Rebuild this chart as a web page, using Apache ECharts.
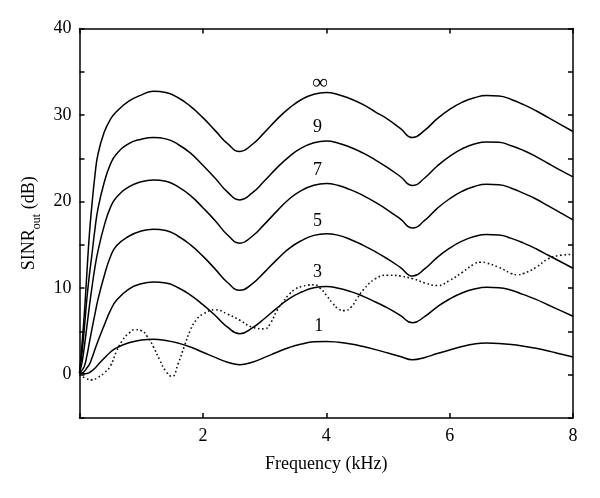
<!DOCTYPE html>
<html>
<head>
<meta charset="utf-8">
<script src="https://cdn.jsdelivr.net/npm/echarts@6/dist/echarts.min.js"></script>
<style>html,body{margin:0;padding:0;background:#fff;}#chart{width:600px;height:498px;}</style>
</head>
<body>
<div id="chart"></div>
<script>
// Frequency samples (kHz) shared by the solid curves
const freq = [0,0.04,0.08,0.12,0.16,0.2,0.25,0.3,0.4,0.5,0.6,0.8,1.0,1.2,
  1.4,1.6,1.8,2.0,2.2,2.4,2.6,2.8,3.0,3.2,3.4,3.6,3.8,4.0,4.2,4.4,4.6,4.8,5.0,5.2,5.4,
  5.6,5.8,6.0,6.2,6.4,6.6,6.8,7.0,7.2,7.4,7.6,7.8,8.0];
// SINR_out (dB) curves
const sinrInf = [0.2,3.5,7.2,11.8,16.2,19.5,23,25.5,28.0,29.5,30.4,31.6,32.3,32.75,
  32.6,32.0,31.0,29.7,28.2,26.7,25.8, 26.6,28.0,29.5,30.8,31.8,32.4,32.6,
  32.35,31.85,31.2,30.35,29.5,28.45,27.4, 28.27,29.58,30.65,31.47,32.0,32.25,
  32.2,31.8,31.2,30.5,29.7,28.9,28.1];
const sinr9 = [0.2,2.5,5.5,8.8,11.5,13.8,16.8,19.2,22.2,24.3,25.5,26.7,27.2,27.4,
  27.25,26.6,25.6,24.2,22.7,21.1,20.2, 21.0,22.4,23.9,25.2,26.2,26.8,27.0,
  26.75,26.25,25.6,24.8,23.9,22.9,21.85, 22.76,24.12,25.23,26.09,26.65,26.9,
  26.85,26.45,25.9,25.2,24.4,23.6,22.85];
const sinr7 = [0.2,1.4,3.3,5.6,7.9,10.0,12.4,14.3,17.2,19.3,20.5,21.7,22.3,22.5,
  22.35,21.7,20.7,19.3,17.8,16.15,15.2, 16.0,17.4,18.9,20.3,21.3,21.9,22.1,
  21.85,21.35,20.7,19.9,19.0,18.0,16.95, 17.86,19.22,20.33,21.19,21.75,22.0,
  21.95,21.55,20.95,20.3,19.5,18.7,17.9];
const sinr5 = [0.2,0.5,1.0,2.2,3.7,5.2,7.0,8.7,11.4,13.6,14.9,16.0,16.6,16.8,
  16.65,16.0,15.0,13.7,12.2,10.65,9.75, 10.5,11.85,13.3,14.6,15.5,16.1,16.3,
  16.1,15.6,14.95,14.2,13.35,12.4,11.4, 12.26,13.56,14.62,15.43,15.96,16.2,
  16.15,15.75,15.2,14.55,13.8,13.05,12.3];
const sinr3 = [0.2,0.2,0.4,0.8,1.2,1.9,2.9,3.9,5.7,7.4,8.6,9.9,10.5,10.7,
  10.6,10.05,9.2,8.1,6.85,5.5,4.74, 5.4,6.5,7.7,8.8,9.55,10.05,10.2,
  10.0,9.6,9.05,8.4,7.7,6.85,6.0, 6.74,7.85,8.75,9.44,9.9,10.1,
  10.05,9.75,9.25,8.7,8.05,7.4,6.75];
const sinr1 = [0.2,0.1,0.1,0.15,0.25,0.45,0.75,1.15,1.9,2.6,3.1,3.7,4.0,4.1,
  3.95,3.65,3.2,2.6,2.0,1.45,1.16, 1.45,2.0,2.6,3.15,3.55,3.8,3.85,
  3.75,3.55,3.25,2.9,2.5,2.1,1.73, 2.0,2.45,2.85,3.25,3.55,3.66,
  3.62,3.5,3.3,3.05,2.75,2.4,2.05];
// Dotted curve
const dotFreq = [0,0.1,0.2,0.3,0.4,0.5,0.6,0.7,0.8,0.9,1.0,1.1,1.2,1.3,1.4,1.5,1.6,1.7,1.8,1.9,2.0,
  2.2,2.4,2.6,2.8,3.0,3.1,3.2,3.3,3.4,3.5,3.6,3.7,3.8,3.9,4.0,4.1,4.2,4.3,4.4,4.5,4.6,4.8,5.0,
  5.2,5.4,5.6,5.8,6.0,6.2,6.4,6.5,6.6,6.8,7.0,7.1,7.2,7.4,7.6,7.8,8.0];
const dotVals = [0,-0.4,-0.6,-0.3,0.2,1.0,2.7,4.0,4.8,5.2,5.1,4.4,3.2,1.7,0.4,-0.2,1.3,3.3,5.2,6.4,7.0,
  7.5,7.0,6.3,5.5,5.3,6.0,7.4,8.4,9.3,9.9,10.2,10.35,10.4,10.0,9.2,8.3,7.6,7.4,7.8,8.8,9.8,11.1,11.5,
  11.4,11.1,10.6,10.3,10.9,11.8,12.8,13.0,12.9,12.4,11.7,11.55,11.7,12.4,13.4,13.8,13.9];
// Curve labels
const curveLabels = ['\u221E','9','7','5','3','1'];
const labelFreq = [3.9,3.86,3.86,3.86,3.86,3.88];
const labelDb = [33.7,28.6,23.6,17.7,11.8,5.6];
// Axis settings
const xTicks = {min:0, max:8, interval:2};
const yTicks = {min:-5, max:40, interval:5};

const FONT = 'Liberation Serif';
const black = '#000';
const axisLineStyle = {color: black, width: 1.5};
function pairs(xs, ys){ return xs.map((x,i)=>[x, ys[i]]); }
function solid(name, ys){
  return {name, type:'line', data: pairs(freq, ys), showSymbol:false, symbol:'none',
    smooth:0.5, lineStyle:{color:black, width:1.5}, z:3};
}

const chart = echarts.init(document.getElementById('chart'), null, {renderer:'canvas'});
chart.setOption({
  animation:false,
  backgroundColor:'#fff',
  grid:{left:79.5, right:27, top:28.5, bottom:80, containLabel:false},
  xAxis:[{
    type:'value', min:xTicks.min, max:xTicks.max, interval:xTicks.interval, position:'bottom',
    axisLine:{show:true, onZero:false, lineStyle:axisLineStyle},
    axisTick:{show:true, inside:true, length:5, lineStyle:axisLineStyle},
    axisLabel:{show:true, color:black, fontFamily:FONT, fontSize:18, margin:9,
      formatter:v=> v===0 ? '' : String(v)},
    splitLine:{show:false},
    name:'Frequency (kHz)', nameLocation:'middle', nameGap:37,
    nameTextStyle:{color:black, fontFamily:FONT, fontSize:18}
  },{
    type:'value', min:xTicks.min, max:xTicks.max, interval:xTicks.interval, position:'top',
    axisLine:{show:true, onZero:false, lineStyle:axisLineStyle},
    axisTick:{show:true, inside:true, length:5, lineStyle:axisLineStyle},
    axisLabel:{show:false}, splitLine:{show:false}
  }],
  yAxis:[{
    type:'value', min:yTicks.min, max:yTicks.max, interval:yTicks.interval, position:'left',
    axisLine:{show:true, onZero:false, lineStyle:axisLineStyle},
    axisTick:{show:true, inside:true, length:5, lineStyle:axisLineStyle},
    axisLabel:{show:true, color:black, fontFamily:FONT, fontSize:18, margin:8,
      formatter:v=> (v%10===0) ? String(v) : ''},
    splitLine:{show:false},
    name:'{a|SINR}{b|out}{a| (dB)}', nameLocation:'middle', nameGap:36, nameRotate:90,
    nameTextStyle:{color:black, fontFamily:FONT, fontSize:18,
      rich:{a:{fontFamily:FONT, fontSize:18, color:black, lineHeight:22, verticalAlign:'bottom'},
            b:{fontFamily:FONT, fontSize:12, color:black, lineHeight:22, verticalAlign:'bottom', padding:[0,0,-4,0]}}}
  },{
    type:'value', min:yTicks.min, max:yTicks.max, interval:yTicks.interval, position:'right',
    axisLine:{show:true, onZero:false, lineStyle:axisLineStyle},
    axisTick:{show:true, inside:true, length:5, lineStyle:axisLineStyle},
    axisLabel:{show:false}, splitLine:{show:false}
  }],
  series:[
    solid('inf', sinrInf), solid('9', sinr9), solid('7', sinr7),
    solid('5', sinr5), solid('3', sinr3), solid('1', sinr1),
    {name:'dotted', type:'line', data: pairs(dotFreq, dotVals), showSymbol:false, symbol:'none',
      smooth:0.5, lineStyle:{color:'#111', width:1.6, type:[1.6,2.6]}, z:2},
    {name:'labels', type:'scatter', symbolSize:0, z:4, itemStyle:{opacity:1},
      data: curveLabels.map((t,i)=>({name:t, value:[labelFreq[i], labelDb[i]],
        label: i===0 ? {fontSize:22} : undefined})),
      label:{show:true, position:'inside', formatter:p=>p.name, color:black, opacity:1,
        textBorderWidth:0, fontFamily:FONT, fontSize:18}}
  ]
});
</script>
</body>
</html>
